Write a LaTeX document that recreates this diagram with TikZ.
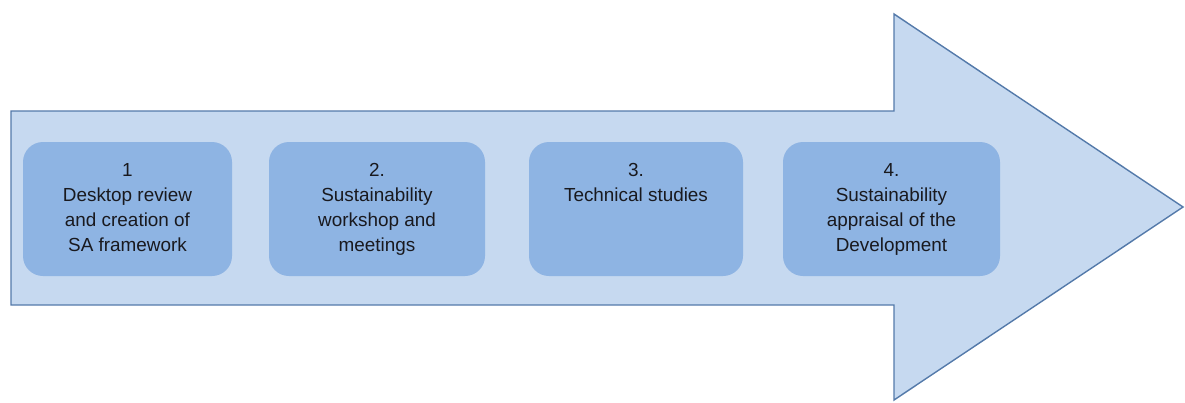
\documentclass[tikz,border=0pt]{standalone}
\usepackage{fontspec}
\setmainfont{Liberation Sans}
\usetikzlibrary{positioning}

\definecolor{arrowfill}{RGB}{198,217,240}
\definecolor{arrowline}{RGB}{84,122,170}
\definecolor{stepfill}{RGB}{142,180,227}
\definecolor{steptext}{RGB}{25,25,30}

\begin{document}
\begin{tikzpicture}[
        x=1pt, y=-1pt,
        stepbox/.style={
          draw=none,
          fill=stepfill,
          rounded corners=20pt,
          minimum height=134pt,
          inner sep=0pt
        },
        steplabel/.style={
          anchor=north,
          align=center,
          inner sep=0pt,
          text=steptext,
          font=\fontsize{18.9}{25}\selectfont
        }
      ]
      \useasboundingbox (0,0) rectangle (1185,402);

      % Pfeil
      \draw[fill=arrowfill, draw=arrowline, line width=1.4pt, line join=miter]
        (11,111) -- (894,111) -- (894,14) -- (1183,207)
        -- (894,400) -- (894,305) -- (11,305) -- cycle;

      % Schritte
      \node[stepbox, minimum width=209pt] (b1) at (127.5,209) {};
      \node[stepbox, minimum width=216pt] (b2) at (377,209) {};
      \node[stepbox, minimum width=214pt] (b3) at (636,209) {};
      \node[stepbox, minimum width=217pt] (b4) at (891.5,209) {};

      % Texte
      \node[steplabel, below=21pt of b1.north] (t1)
        {1\\Desktop review\\and creation of\\SA framework};
      \node[steplabel, below=21pt of b2.north] (t2)
        {2.\\Sustainability\\workshop and\\meetings};
      \node[steplabel, below=21pt of b3.north] (t3)
        {3.\\Technical studies};
      \node[steplabel, below=21pt of b4.north] (t4)
        {4.\\Sustainability\\appraisal of the\\Development};

    \end{tikzpicture}
\end{document}
